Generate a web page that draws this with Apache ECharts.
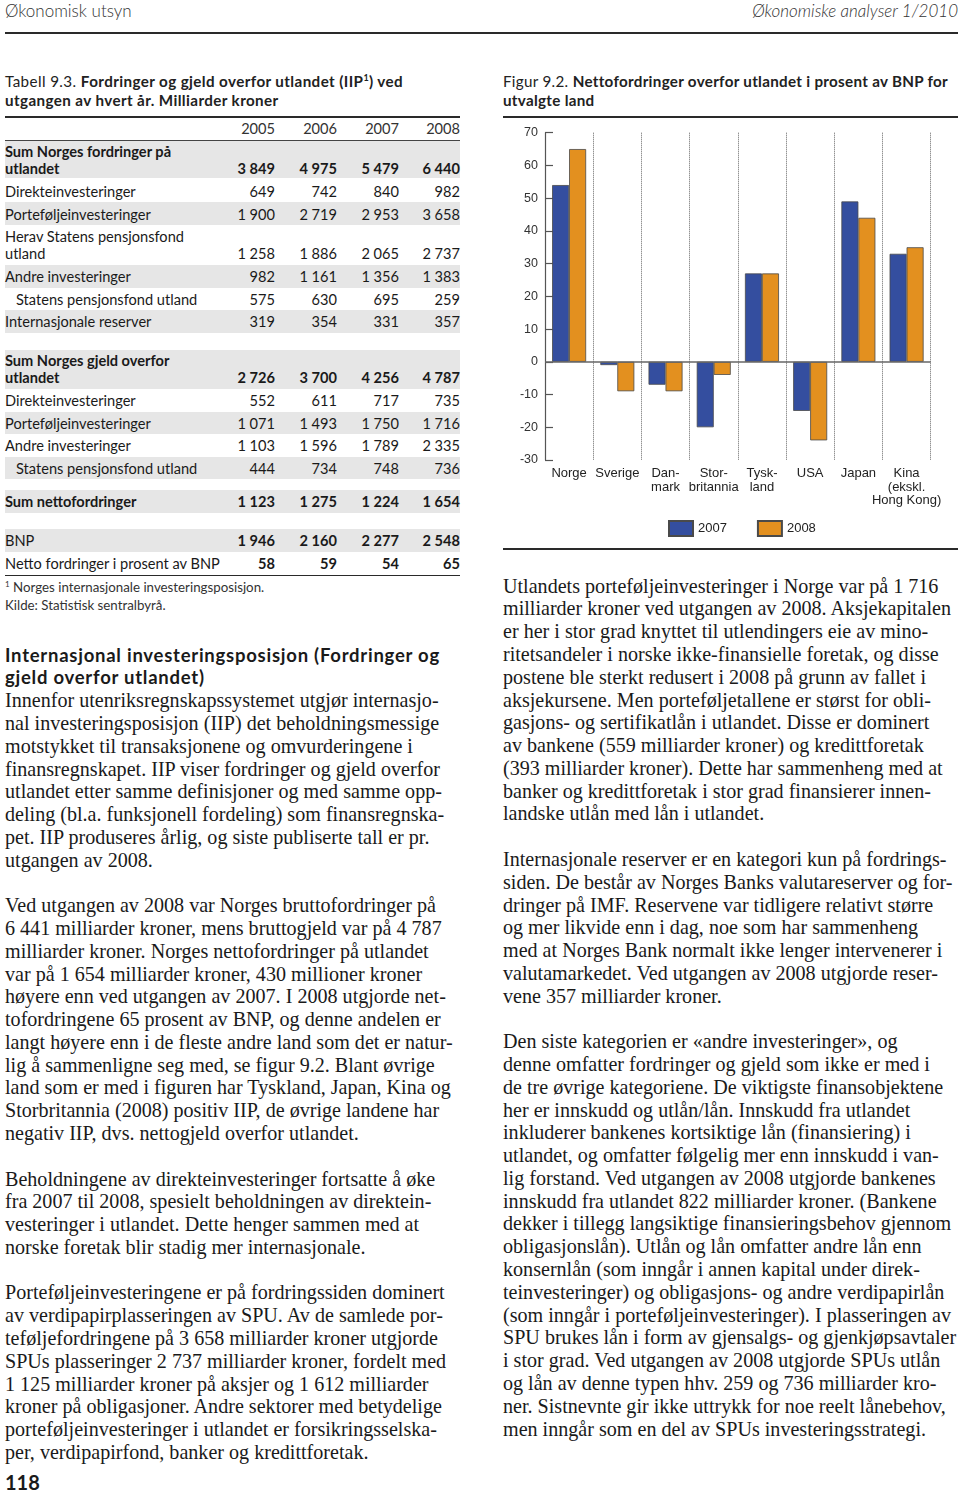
<!DOCTYPE html>
<html><head><meta charset="utf-8">
<script src="https://cdn.jsdelivr.net/npm/echarts@6/dist/echarts.min.js"></script>
<style>
html,body{margin:0;padding:0;background:#fff;}
body{width:960px;height:1492px;position:relative;overflow:hidden;color:#1a1a1a;}
.abs{position:absolute;white-space:nowrap;}
.sans{font-family:Lato,"Open Sans","Noto Sans",sans-serif;}
.serif{font-family:"Liberation Serif","DejaVu Serif",serif;}
.rule{position:absolute;background:#2a2a2a;}
.band{position:absolute;background:#e6e6e6;left:5px;width:455px;}
.tl{position:absolute;height:20px;line-height:20px;font-size:14.6px;white-space:nowrap;}
.num{position:absolute;height:20px;line-height:20px;font-size:14.6px;text-align:right;width:70px;}
.b{font-weight:700;}
.body{position:absolute;font-size:20.1px;line-height:22.78px;white-space:nowrap;}
.ttl{font-size:15.2px;line-height:18.5px;color:#222;letter-spacing:0.4px;}
</style></head>
<body>
<div class="abs sans" style="left:5px;top:0px;font-size:17px;font-weight:300;line-height:22px;color:#333;">Økonomisk utsyn</div>
<div class="abs sans" style="right:2px;top:0px;font-size:17px;font-weight:300;font-style:italic;line-height:22px;color:#333;">Økonomiske analyser 1/2010</div>
<div class="rule" style="left:5px;top:32px;width:953px;height:2px;"></div>

<div class="abs sans ttl" style="left:5px;top:72px;">Tabell 9.3. <b>Fordringer og gjeld overfor utlandet (IIP<sup style="font-size:9px;line-height:0">1</sup>) ved</b><br><b>utgangen av hvert år. Milliarder kroner</b></div>
<div class="abs sans ttl" style="left:503px;top:72px;letter-spacing:0.3px;">Figur 9.2. <b>Nettofordringer overfor utlandet i prosent av BNP for</b><br><b>utvalgte land</b></div>
<div class="rule" style="left:5px;top:116px;width:455px;height:1.5px;"></div>
<div class="rule" style="left:503px;top:116px;width:455px;height:1.5px;"></div>
<div class="rule" style="left:503px;top:548px;width:455px;height:1.5px;"></div>

<div id="table"></div>

<div id="chart" style="position:absolute;left:500px;top:120px;width:460px;height:425px;"></div>

<div class="body serif" style="left:5px;top:643.6px;">
<span class="sans" style="font-weight:700;font-size:18.5px;letter-spacing:0.75px;">Internasjonal investeringsposisjon (Fordringer og<br>gjeld overfor utlandet)</span><br>
Innenfor utenriksregnskapssystemet utgjør internasjo-<br>
nal investeringsposisjon (IIP) det beholdningsmessige<br>
motstykket til transaksjonene og omvurderingene i<br>
finansregnskapet. IIP viser fordringer og gjeld overfor<br>
utlandet etter samme definisjoner og med samme opp-<br>
deling (bl.a. funksjonell fordeling) som finansregnska-<br>
pet. IIP produseres årlig, og siste publiserte tall er pr.<br>
utgangen av 2008.<br>
<br>
Ved utgangen av 2008 var Norges bruttofordringer på<br>
6 441 milliarder kroner, mens bruttogjeld var på 4 787<br>
milliarder kroner. Norges nettofordringer på utlandet<br>
var på 1 654 milliarder kroner, 430 millioner kroner<br>
høyere enn ved utgangen av 2007. I 2008 utgjorde net-<br>
tofordringene 65 prosent av BNP, og denne andelen er<br>
langt høyere enn i de fleste andre land som det er natur-<br>
lig å sammenligne seg med, se figur 9.2. Blant øvrige<br>
land som er med i figuren har Tyskland, Japan, Kina og<br>
Storbritannia (2008) positiv IIP, de øvrige landene har<br>
negativ IIP, dvs. nettogjeld overfor utlandet.<br>
<br>
Beholdningene av direkteinvesteringer fortsatte å øke<br>
fra 2007 til 2008, spesielt beholdningen av direktein-<br>
vesteringer i utlandet. Dette henger sammen med at<br>
norske foretak blir stadig mer internasjonale.<br>
<br>
Porteføljeinvesteringene er på fordringssiden dominert<br>
av verdipapirplasseringen av SPU. Av de samlede por-<br>
teføljefordringene på 3 658 milliarder kroner utgjorde<br>
SPUs plasseringer 2 737 milliarder kroner, fordelt med<br>
1 125 milliarder kroner på aksjer og 1 612 milliarder<br>
kroner på obligasjoner. Andre sektorer med betydelige<br>
porteføljeinvesteringer i utlandet er forsikringsselska-<br>
per, verdipapirfond, banker og kredittforetak.
</div>
<div class="abs sans" style="left:5px;top:1470px;font-size:20px;font-weight:700;line-height:24px;">118</div>

<div class="body serif" style="left:503px;top:574.6px;">
Utlandets porteføljeinvesteringer i Norge var på 1 716<br>
milliarder kroner ved utgangen av 2008. Aksjekapitalen<br>
er her i stor grad knyttet til utlendingers eie av mino-<br>
ritetsandeler i norske ikke-finansielle foretak, og disse<br>
postene ble sterkt redusert i 2008 på grunn av fallet i<br>
aksjekursene. Men porteføljetallene er størst for obli-<br>
gasjons- og sertifikatlån i utlandet. Disse er dominert<br>
av bankene (559 milliarder kroner) og kredittforetak<br>
(393 milliarder kroner). Dette har sammenheng med at<br>
banker og kredittforetak i stor grad finansierer innen-<br>
landske utlån med lån i utlandet.<br>
<br>
Internasjonale reserver er en kategori kun på fordrings-<br>
siden. De består av Norges Banks valutareserver og for-<br>
dringer på IMF. Reservene var tidligere relativt større<br>
og mer likvide enn i dag, noe som har sammenheng<br>
med at Norges Bank normalt ikke lenger intervenerer i<br>
valutamarkedet. Ved utgangen av 2008 utgjorde reser-<br>
vene 357 milliarder kroner.<br>
<br>
Den siste kategorien er «andre investeringer», og<br>
denne omfatter fordringer og gjeld som ikke er med i<br>
de tre øvrige kategoriene. De viktigste finansobjektene<br>
her er innskudd og utlån/lån. Innskudd fra utlandet<br>
inkluderer bankenes kortsiktige lån (finansiering) i<br>
utlandet, og omfatter følgelig mer enn innskudd i van-<br>
lig forstand. Ved utgangen av 2008 utgjorde bankenes<br>
innskudd fra utlandet 822 milliarder kroner. (Bankene<br>
dekker i tillegg langsiktige finansieringsbehov gjennom<br>
obligasjonslån). Utlån og lån omfatter andre lån enn<br>
konsernlån (som inngår i annen kapital under direk-<br>
teinvesteringer) og obligasjons- og andre verdipapirlån<br>
(som inngår i porteføljeinvesteringer). I plasseringen av<br>
SPU brukes lån i form av gjensalgs- og gjenkjøpsavtaler<br>
i stor grad. Ved utgangen av 2008 utgjorde SPUs utlån<br>
og lån av denne typen hhv. 259 og 736 milliarder kro-<br>
ner. Sistnevnte gir ikke uttrykk for noe reelt lånebehov,<br>
men inngår som en del av SPUs investeringsstrategi.
</div>

<script>
// ---- Chart data (Figur 9.2) ----
const countries = ['Norge', 'Sverige', 'Dan-\nmark', 'Stor-\nbritannia', 'Tysk-\nland', 'USA', 'Japan', 'Kina\n(ekskl.\nHong Kong)'];
const values2007 = [54, -1, -7, -20, 27, -15, 49, 33];
const values2008 = [65, -9, -9, -4, 27, -24, 44, 35];
const seriesNames = ['2007', '2008'];
const yMin = -30, yMax = 70, yStep = 10;

// ---- Table data (Tabell 9.3) ----
const tableYears = ['2005', '2006', '2007', '2008'];
const tableRows = [
  // [centerY, label, values, boldLabel, boldValues, indent]
  [152, 'Sum Norges fordringer på', null, true, true, 0],
  [169, 'utlandet', ['3 849', '4 975', '5 479', '6 440'], true, true, 0],
  [192, 'Direkteinvesteringer', ['649', '742', '840', '982'], false, false, 0],
  [215, 'Porteføljeinvesteringer', ['1 900', '2 719', '2 953', '3 658'], false, false, 0],
  [237, 'Herav Statens pensjonsfond', null, false, false, 0],
  [254, 'utland', ['1 258', '1 886', '2 065', '2 737'], false, false, 0],
  [277, 'Andre investeringer', ['982', '1 161', '1 356', '1 383'], false, false, 0],
  [300, 'Statens pensjonsfond utland', ['575', '630', '695', '259'], false, false, 11],
  [322, 'Internasjonale reserver', ['319', '354', '331', '357'], false, false, 0],
  [361, 'Sum Norges gjeld overfor', null, true, true, 0],
  [378, 'utlandet', ['2 726', '3 700', '4 256', '4 787'], true, true, 0],
  [401, 'Direkteinvesteringer', ['552', '611', '717', '735'], false, false, 0],
  [424, 'Porteføljeinvesteringer', ['1 071', '1 493', '1 750', '1 716'], false, false, 0],
  [446, 'Andre investeringer', ['1 103', '1 596', '1 789', '2 335'], false, false, 0],
  [469, 'Statens pensjonsfond utland', ['444', '734', '748', '736'], false, false, 11],
  [502, 'Sum nettofordringer', ['1 123', '1 275', '1 224', '1 654'], true, true, 0],
  [541, 'BNP', ['1 946', '2 160', '2 277', '2 548'], false, true, 0],
  [564, 'Netto fordringer i prosent av BNP', ['58', '59', '54', '65'], false, true, 0]
];
const grayBands = [[140,178],[202,225],[265,288],[310,333],[350,389],[412,434],[457,479],[490,513],[529,552]];
const colRight = [275, 337, 399, 460];

(function buildTable(){
  const t = document.getElementById('table');
  let h = '';
  grayBands.forEach(b => { h += `<div class="band" style="top:${b[0]}px;height:${b[1]-b[0]}px"></div>`; });
  h += `<div class="rule" style="left:5px;top:139.5px;width:455px;height:1px;background:#444"></div>`;
  h += `<div class="rule" style="left:5px;top:574.5px;width:455px;height:1.5px;"></div>`;
  tableYears.forEach((y,i) => { h += `<div class="num sans" style="left:${colRight[i]-70}px;top:119px;color:#333">${y}</div>`; });
  tableRows.forEach(r => {
    const [cy, label, vals, bl, bv, ind] = r;
    h += `<div class="tl sans${bl?' b':''}" style="left:${5+ind}px;top:${cy-10}px">${label}</div>`;
    if (vals) vals.forEach((v,i) => { h += `<div class="num sans${bv?' b':''}" style="left:${colRight[i]-70}px;top:${cy-10}px">${v}</div>`; });
  });
  h += `<div class="abs sans" style="left:5px;top:578px;font-size:13.3px;line-height:18px;color:#333"><sup style="font-size:8px;line-height:0">1</sup> Norges internasjonale investeringsposisjon.<br>Kilde: Statistisk sentralbyrå.</div>`;
  t.innerHTML = h;
})();

const chart = echarts.init(document.getElementById('chart'), null, {renderer: 'canvas'});
const font = '"Liberation Sans", Arial, sans-serif';
const barStyle = (c) => ({ color: c, borderColor: '#4a4a4a', borderWidth: 0.8 });
chart.setOption({
  animation: false,
  textStyle: { fontFamily: font },
  grid: { left: 45, right: 29.3, top: 12.7, bottom: 85, containLabel: false },
  legend: {
    left: 163, top: 395, itemWidth: 24, itemHeight: 15, itemGap: 30,
    icon: 'rect',
    textStyle: { fontSize: 13, color: '#222', fontFamily: font },
    data: seriesNames
  },
  xAxis: {
    type: 'category', data: countries, position: 'bottom',
    axisLine: { show: false, onZero: false }, axisTick: { show: false },
    axisLabel: { interval: 0, hideOverlap: false, margin: 7, fontSize: 13, lineHeight: 13.5, color: '#222', fontFamily: font },
    splitLine: { show: true, interval: 0, lineStyle: { type: 'dotted', color: '#666', width: 1 } }
  },
  yAxis: {
    type: 'value', min: yMin, max: yMax, interval: yStep,
    axisLine: { show: true, lineStyle: { color: '#555', width: 1.2 } },
    axisTick: { show: true, inside: true, length: 8, lineStyle: { color: '#555', width: 1.2 } },
    axisLabel: { fontSize: 12.5, color: '#333', margin: 7, padding: [6, 0, 0, 0], fontFamily: font },
    splitLine: { show: false }
  },
  series: [
    { name: seriesNames[0], type: 'bar', data: values2007, barWidth: 17, barGap: '0%', itemStyle: barStyle('#344e9f'),
      markLine: { silent: true, symbol: ['none','none'], label: { show: false },
        lineStyle: { color: '#666', width: 1.5, type: 'solid' }, data: [{ yAxis: 0 }] } },
    { name: seriesNames[1], type: 'bar', data: values2008, barWidth: 17, barGap: '0%', itemStyle: barStyle('#e3901f') }
  ]
});
</script>
</body></html>
